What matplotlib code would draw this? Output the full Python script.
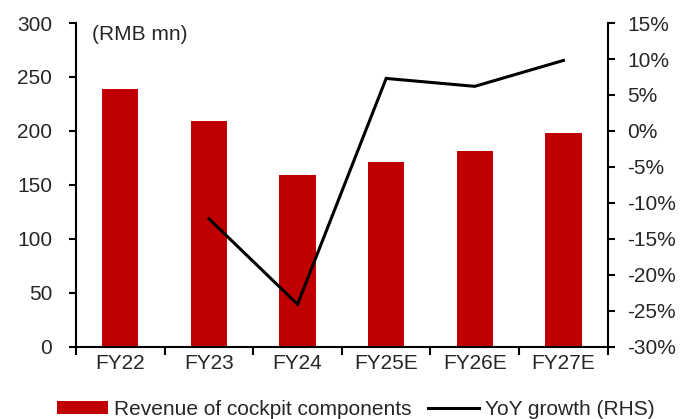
import matplotlib
matplotlib.use("Agg")
import matplotlib.pyplot as plt
from matplotlib.ticker import FuncFormatter, MultipleLocator
from matplotlib.patches import Patch
from matplotlib.lines import Line2D

plt.rcParams['font.family'] = ['Liberation Sans', 'DejaVu Sans']

categories = ["FY22", "FY23", "FY24", "FY25E", "FY26E", "FY27E"]
revenue = [238.5, 208.9, 159.1, 170.9, 181.4, 198.1]
yoy_growth = [None, -12.2, -24.1, 7.3, 6.2, 9.8]

text_color = "#262626"
bar_color = "#C00000"
fs = 15

fig = plt.figure(figsize=(6.92, 4.19), dpi=100)
ax = fig.add_axes([0.1098, 0.1725, 0.7684, 0.7725])
ax2 = ax.twinx()

x = list(range(len(categories)))
ax.bar(x, revenue, width=0.41, color=bar_color, zorder=2)

lx = [i for i, v in zip(x, yoy_growth) if v is not None]
ly = [v for v in yoy_growth if v is not None]
ax2.plot(lx, ly, color="black", lw=2.2, solid_joinstyle="miter", zorder=3)

ax.set_xlim(-0.5, len(categories) - 0.5)
ax.set_ylim(0, 300)
ax.yaxis.set_major_locator(MultipleLocator(50))
ax2.set_ylim(-30, 15)
ax2.yaxis.set_major_locator(MultipleLocator(5))
ax2.yaxis.set_major_formatter(FuncFormatter(lambda v, p: f"{v:.0f}%"))

# category ticks sit between bars, labels centered under bars
ax.set_xticks([i - 0.5 for i in range(len(categories) + 1)])
ax.set_xticklabels([])
ax.set_xticks(x, minor=True)
ax.set_xticklabels(categories, minor=True)
ax.tick_params(axis="x", which="minor", length=0, pad=5,
               labelsize=fs, labelcolor=text_color)
ax.tick_params(axis="x", which="major", length=6, width=1.5, direction="out")

ax.tick_params(axis="y", length=5, width=1.5, direction="out",
               labelsize=fs, labelcolor=text_color, pad=12)
ax2.tick_params(axis="y", length=5, width=1.5, direction="out",
                labelsize=fs, labelcolor=text_color, pad=9)
for a in (ax, ax2):
    a.spines["top"].set_visible(False)
    for s in ("left", "right", "bottom"):
        a.spines[s].set_linewidth(1.5)
ax2.spines["left"].set_visible(False)
ax2.spines["bottom"].set_visible(False)
ax.spines["right"].set_visible(False)

ax.text(0.03, 0.995, "(RMB mn)", transform=ax.transAxes, ha="left", va="top",
        fontsize=fs, color=text_color)

handles = [Patch(facecolor=bar_color, edgecolor="none"),
           Line2D([0], [0], color="black", lw=2.2)]
labels = ["Revenue of cockpit components", "YoY growth (RHS)"]
fig.legend(handles, labels, loc="lower center", ncol=2, frameon=False,
           bbox_to_anchor=(0.514, -0.045), fontsize=fs, labelcolor=text_color,
           handlelength=2.45, handleheight=0.55, handletextpad=0.3,
           columnspacing=0.8)

fig.savefig("out.png", dpi=100)
